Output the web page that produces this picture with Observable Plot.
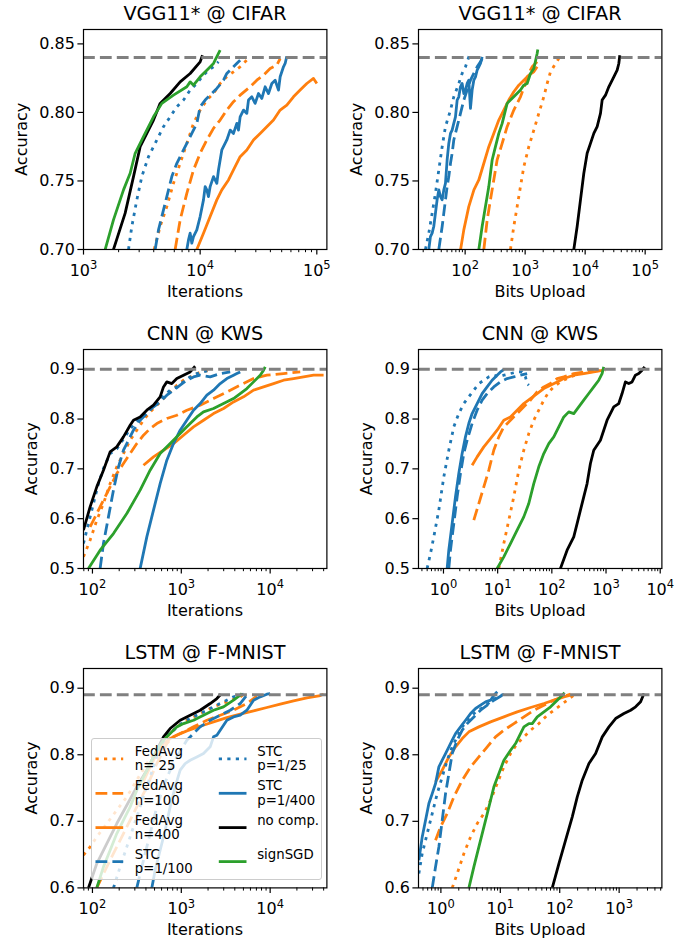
<!DOCTYPE html>
<html><head><meta charset="utf-8">
<script src="https://cdn.jsdelivr.net/npm/d3@7"></script>
<script src="https://cdn.jsdelivr.net/npm/@observablehq/plot@0.6"></script>
<style>
body{margin:0;background:#fff;}
#fig{position:relative;width:695px;height:939px;background:#fff;font-family:"DejaVu Sans",sans-serif;overflow:hidden;}
</style></head><body><div id="fig"></div>
<script>
// ---------- series metadata ----------
const seriesNames = ["FedAvg\nn= 25","FedAvg\nn=100","FedAvg\nn=400","STC\np=1/100","STC\np=1/25","STC\np=1/400","no comp.","signSGD"];
const seriesColors = ["#ff7f0e","#ff7f0e","#ff7f0e","#1f77b4","#1f77b4","#1f77b4","#000000","#2ca02c"];
const seriesDash = ["3.2,5.3","11.8,5.1",null,"11.8,5.1","3.2,5.3",null,null,null];

// ---------- panel texts / ticks ----------
const titles = ["VGG11* @ CIFAR","VGG11* @ CIFAR","CNN @ KWS","CNN @ KWS","LSTM @ F-MNIST","LSTM @ F-MNIST"];
const xLabels = ["Iterations","Bits Upload","Iterations","Bits Upload","Iterations","Bits Upload"];
const yLabel = "Accuracy";
const refAcc = [0.84, 0.84, 0.90, 0.90, 0.89, 0.89];
const xTicks1 = [1e3, 1e4, 1e5];
const xTicks2 = [1e2, 1e3, 1e4, 1e5];
const xTicks3 = [1e2, 1e3, 1e4];
const xTicks4 = [1e0, 1e1, 1e2, 1e3, 1e4];
const xTicks5 = [1e2, 1e3, 1e4];
const xTicks6 = [1e0, 1e1, 1e2, 1e3];
const yTicksVGG = [0.70, 0.75, 0.80, 0.85];
const yTicksKWS = [0.5, 0.6, 0.7, 0.8, 0.9];
const yTicksLSTM = [0.6, 0.7, 0.8, 0.9];

// ---------- VGG11* @ CIFAR, iterations ----------
const p1_fa25 = [[4034,0.700],[4541,0.7168],[5179,0.7313],[5906,0.7483],[6739,0.7629],[7686,0.7774],[8767,0.792],[10000,0.8017],[11406,0.809],[13013,0.8138],[14840,0.8211],[16927,0.826],[19307,0.8296],[22020,0.8333],[25119,0.8381],[26827,0.8405]];
const p1_fa100 = [[6105,0.700],[6739,0.7216],[7686,0.741],[8767,0.758],[10000,0.7702],[11406,0.7799],[13013,0.7884],[14840,0.7944],[16927,0.8017],[19307,0.8078],[22020,0.8126],[26827,0.8187],[30600,0.8235],[34910,0.8272],[39810,0.832],[45410,0.8345],[48510,0.8393]];
const p1_fa400 = [[9363,0.700],[10680,0.7119],[12183,0.724],[13895,0.7362],[15336,0.7435],[17500,0.7507],[19307,0.758],[22020,0.7677],[25119,0.7726],[28650,0.7799],[32680,0.7847],[37276,0.7896],[42530,0.7944],[48510,0.8017],[55330,0.8053],[63100,0.8114],[71970,0.8163],[82090,0.8211],[93630,0.8248],[100000,0.8211]];
const p1_stc100 = [[4116,0.700],[4394,0.7143],[4850,0.7289],[5179,0.7386],[5717,0.7532],[6310,0.7629],[6964,0.7702],[7686,0.7774],[8483,0.7847],[9363,0.792],[10000,0.8041],[11040,0.809],[12183,0.8126],[13895,0.8175],[15849,0.8235],[16927,0.8284],[19307,0.8333],[21310,0.8369],[22020,0.8381]];
const p1_stc25 = [[2431,0.700],[2596,0.7168],[2865,0.7362],[3162,0.7532],[3607,0.7677],[4253,0.7799],[4850,0.7896],[5533,0.7968],[6310,0.8041],[7197,0.809],[8209,0.8163],[9363,0.8211],[10680,0.8272],[11788,0.8308],[13013,0.8333],[14360,0.8369]];
const p1_stc400 = [[7686,0.700],[7943,0.707],[8209,0.7119],[8483,0.7046],[8767,0.7094],[9363,0.7143],[10000,0.724],[10680,0.7362],[11040,0.7459],[11406,0.7435],[11788,0.7386],[12183,0.7459],[13013,0.7532],[13895,0.7483],[14360,0.758],[15336,0.7726],[16927,0.7799],[18080,0.7871],[19307,0.7847],[20620,0.792],[21310,0.7871],[22020,0.7968],[23520,0.8017],[25119,0.7993],[25960,0.809],[27730,0.8114],[29610,0.8066],[31623,0.8138],[33780,0.8102],[36070,0.8187],[38530,0.8138],[41160,0.8211],[43950,0.8235],[46940,0.8163],[48510,0.826],[51790,0.8333],[53520,0.8357],[55330,0.841]];
const p1_none = [[1807,0.700],[2276,0.7265],[2683,0.7532],[3060,0.775],[3490,0.7847],[3981,0.7944],[4541,0.8066],[5533,0.8138],[6739,0.8223],[8209,0.8284],[10000,0.8369],[10471,0.8417]];
const p1_sign = [[1534,0.700],[1807,0.7216],[2203,0.7435],[2512,0.7556],[2773,0.7702],[3268,0.7823],[3981,0.7968],[4693,0.8066],[5906,0.8126],[7686,0.8187],[8209,0.8223],[8767,0.8199],[10000,0.826],[11406,0.8308],[13013,0.8357],[14360,0.843],[14840,0.8454]];

// ---------- VGG11* @ CIFAR, bits upload ----------
const p2_fa25 = [[569,0.700],[647,0.7168],[736,0.7313],[836,0.7459],[950,0.7604],[1151,0.775],[1395,0.7871],[1690,0.7993],[2047,0.8114],[2326,0.8211],[2643,0.8296],[3203,0.8357],[3639,0.8393]];
const p2_fa100 = [[205,0.700],[233,0.7216],[264,0.7362],[300,0.7507],[341,0.7653],[414,0.7774],[501,0.7896],[647,0.8017],[836,0.8114],[1013,0.8211],[1151,0.8284],[1308,0.8333],[1585,0.8369]];
const p2_fa400 = [[84,0.700],[95,0.7143],[115,0.7313],[140,0.7435],[169,0.7507],[205,0.7629],[248,0.775],[300,0.7847],[364,0.7944],[441,0.8017],[534,0.809],[647,0.8151],[784,0.8199],[950,0.8235],[1151,0.8272],[1395,0.8296],[1585,0.8333]];
const p2_stc100 = [[36.4,0.700],[41.4,0.7168],[44.1,0.7265],[47,0.7362],[50.1,0.7459],[53.4,0.7532],[57,0.7629],[60.7,0.7702],[64.7,0.7799],[73.6,0.7896],[83.6,0.7993],[95,0.809],[108,0.8163],[122.7,0.8235],[139.5,0.8284],[158.5,0.8333],[180.1,0.8369],[192,0.8393]];
const p2_stc25 = [[21.8,0.700],[24.8,0.7119],[28.2,0.7265],[32,0.741],[36.4,0.758],[41.4,0.775],[47,0.7896],[57,0.8017],[64.7,0.8114],[78.4,0.8211],[89.1,0.8284],[101.3,0.8333],[115.1,0.8405],[122.7,0.843]];
const p2_stc400 = [[24.8,0.700],[26.4,0.7094],[28.2,0.7119],[30,0.7168],[32,0.7265],[34.1,0.7362],[36.4,0.7435],[38.8,0.7386],[41.4,0.7362],[44.1,0.7435],[47,0.7483],[50.1,0.7653],[53.4,0.7774],[57,0.7847],[60.7,0.7871],[64.7,0.792],[69,0.7968],[73.6,0.809],[78.4,0.8114],[83.6,0.8187],[89.1,0.8211],[95,0.8138],[101.3,0.8163],[108,0.8211],[115.1,0.8235],[122.7,0.8029],[130.8,0.8163],[139.5,0.8235],[148.7,0.826],[158.5,0.8308],[169,0.8333],[180.1,0.8357],[192,0.8405]];
const p2_none = [[6471,0.700],[7356,0.7168],[8359,0.7362],[9502,0.7556],[10797,0.7702],[12270,0.7774],[13947,0.7847],[15849,0.7896],[18010,0.7993],[19200,0.809],[21830,0.8126],[24800,0.8187],[30050,0.826],[34150,0.8308],[36390,0.8357],[37820,0.8417]];
const p2_sign = [[169,0.700],[192,0.7168],[218,0.7313],[248,0.7459],[282,0.7653],[320,0.775],[364,0.7847],[414,0.792],[501,0.8066],[647,0.8114],[836,0.8163],[950,0.8199],[1080,0.8211],[1227,0.8284],[1395,0.832],[1585,0.843],[1626,0.8459]];

// ---------- CNN @ KWS, iterations ----------
const p3_fa25 = [[79.2,0.5234],[94.1,0.5568],[111.9,0.5969],[133,0.6304],[158.1,0.6705],[187.9,0.704],[223.4,0.7307],[265.6,0.7575],[315.6,0.7776],[375.3,0.7976],[446,0.8144],[530.3,0.8277],[630.2,0.8411],[749.2,0.8545],[890.5,0.8679],[1059,0.8779],[1258,0.8846],[1496,0.8913],[1778,0.896],[2114,0.898]];
const p3_fa100 = [[94.1,0.5836],[111.9,0.6103],[133,0.6371],[158.1,0.6638],[187.9,0.6906],[223.4,0.7107],[265.6,0.7307],[315.6,0.7508],[375.3,0.7675],[446,0.7809],[530.3,0.791],[687.3,0.801],[890.5,0.8077],[1154,0.8177],[1631,0.8277],[2305,0.8411],[3257,0.8545],[4602,0.8679],[6503,0.8813],[9190,0.888],[14155,0.8913],[21810,0.8946]];
const p3_fa400 = [[375.3,0.7073],[486.3,0.724],[630.2,0.7374],[817,0.7508],[1059,0.7675],[1372,0.7843],[1778,0.7976],[2305,0.811],[2987,0.8211],[3871,0.8344],[5017,0.8445],[6503,0.8579],[8427,0.8645],[10923,0.8712],[14155,0.8779],[18341,0.8813],[23776,0.8846],[30820,0.888],[39940,0.888]];
const p3_stc100 = [[122,0.5],[133,0.5501],[151.4,0.6036],[172.4,0.6572],[196.3,0.704],[223.4,0.7374],[254.3,0.7575],[289.5,0.7776],[344.2,0.7976],[409.2,0.811],[486.3,0.8244],[578.1,0.8344],[687.3,0.8478],[817,0.8579],[970.9,0.8679],[1154,0.8779],[1372,0.8846],[1631,0.888],[2114,0.8846],[2740,0.8913],[3551,0.8946]];
const p3_stc25 = [[79.2,0.5501],[90.2,0.5902],[102.6,0.6304],[116.8,0.6705],[133,0.7006],[158.1,0.7307],[187.9,0.740],[223.4,0.760],[265.6,0.780],[315.6,0.795],[375.3,0.808],[446,0.820],[530.3,0.833],[630.2,0.846],[749.2,0.8579],[890.5,0.8645],[1059,0.8746],[1258,0.8846],[1496,0.8913],[1778,0.8946],[2114,0.898]];
const p3_stc400 = [[344.2,0.5],[409.2,0.5635],[486.3,0.617],[578.1,0.6705],[687.3,0.7174],[817,0.7508],[970.9,0.7776],[1154,0.7976],[1372,0.8177],[1631,0.8311],[1939,0.8478],[2305,0.8579],[2740,0.8712],[3257,0.8813],[3871,0.888],[4221,0.8913],[4602,0.8946]];
const p3_none = [[79.2,0.5769],[94.1,0.6237],[111.9,0.6638],[133,0.6973],[158.1,0.7341],[187.9,0.7441],[223.4,0.7642],[265.6,0.7876],[289.5,0.7976],[344.2,0.8043],[409.2,0.8177],[486.3,0.8277],[578.1,0.8445],[630.2,0.8645],[687.3,0.8746],[782.3,0.8712],[890.5,0.8813],[1059,0.888],[1258,0.8946],[1433,0.906]];
const p3_sign = [[90.2,0.5],[122,0.5367],[172.4,0.5702],[243.6,0.6103],[344.2,0.6572],[446,0.6973],[578.1,0.7307],[749.2,0.7508],[970.9,0.7709],[1154,0.7843],[1496,0.8043],[1778,0.8144],[2305,0.8211],[2987,0.8311],[3871,0.8411],[4602,0.8512],[5470,0.8612],[6503,0.8746],[7730,0.888],[8427,0.898],[8798,0.9047]];

// ---------- CNN @ KWS, bits upload ----------
const p4_fa25 = [[10.49,0.5],[12.98,0.5501],[16.05,0.5969],[19.84,0.6438],[24.55,0.6973],[30.35,0.7374],[37.53,0.7709],[46.42,0.7976],[57.41,0.8177],[71,0.8378],[87.8,0.8545],[108.6,0.8645],[144.1,0.8746],[220.4,0.8846],[337.1,0.8913],[515.5,0.8946],[788.4,0.898],[974.8,0.898]];
const p4_fa100 = [[3.63,0.5969],[4.49,0.6304],[5.55,0.6638],[6.86,0.6973],[8.48,0.7374],[10.49,0.7642],[12.98,0.7843],[17.23,0.7976],[22.87,0.811],[30.35,0.8244],[40.29,0.8378],[53.48,0.8545],[71,0.8645],[94.2,0.8712],[125.1,0.8813],[166.1,0.8846],[253.9,0.8913],[388.3,0.8946],[593.8,0.898]];
const p4_fa400 = [[3.38,0.7073],[4.18,0.724],[5.55,0.7441],[7.36,0.7608],[9.78,0.7776],[12.98,0.7976],[17.23,0.8043],[22.87,0.8177],[30.35,0.8311],[40.29,0.8411],[53.48,0.8512],[71,0.8612],[94.2,0.8679],[125.1,0.8746],[166.1,0.8813],[253.9,0.888],[388.3,0.8913],[593.8,0.8946],[908.2,0.898]];
const p4_stc100 = [[1.254,0.5],[1.346,0.5367],[1.551,0.5902],[1.787,0.6438],[2.059,0.6906],[2.372,0.7307],[2.733,0.7575],[3.38,0.791],[4.18,0.8177],[5.17,0.8378],[6.39,0.8512],[8.48,0.8645],[11.27,0.8746],[14.95,0.8813],[19.84,0.8846],[26.35,0.888],[34.97,0.8913]];
const p4_stc25 = [[0.4995,0.5],[0.5756,0.53],[0.663,0.5635],[0.82,0.617],[1.014,0.6839],[1.254,0.7374],[1.551,0.7843],[1.918,0.811],[2.372,0.8311],[2.934,0.8445],[3.63,0.8579],[4.49,0.8712],[5.55,0.8779],[6.86,0.8846],[8.48,0.888],[10.49,0.8846],[12.98,0.888],[17.23,0.8913],[22.87,0.8946],[28.28,0.8946],[32.58,0.8846],[34.97,0.8712],[37.53,0.8679]];
const p4_stc400 = [[1.169,0.5],[1.254,0.5367],[1.445,0.5902],[1.665,0.6438],[1.918,0.6906],[2.21,0.7307],[2.546,0.7642],[2.934,0.791],[3.38,0.811],[4.18,0.8311],[5.17,0.8512],[6.39,0.8645],[7.9,0.8779],[9.78,0.888],[11.27,0.8946],[12.98,0.8993]];
const p4_none = [[144.1,0.5],[191.3,0.5367],[253.9,0.5635],[292.5,0.5902],[337.1,0.617],[388.3,0.6438],[447.4,0.6705],[515.5,0.7107],[593.8,0.7374],[788.4,0.7575],[908.2,0.7776],[1046,0.7976],[1389,0.8244],[1718,0.8311],[1979,0.8512],[2280,0.8746],[2627,0.8712],[3026,0.8746],[3486,0.888],[4017,0.8913],[4627,0.898],[5184,0.9047]];
const p4_sign = [[9.78,0.5],[12.98,0.5234],[17.23,0.5501],[22.87,0.5769],[30.35,0.6036],[37.53,0.6304],[46.42,0.6705],[57.41,0.704],[71,0.7307],[87.8,0.7508],[108.6,0.7642],[134.3,0.7843],[166.1,0.8043],[205.3,0.8144],[253.9,0.811],[314,0.8244],[388.3,0.8378],[480.2,0.8512],[593.8,0.8645],[734.4,0.8779],[846,0.8913],[908.2,0.9047]];

// ---------- LSTM @ F-MNIST, iterations ----------
const p5_fa25 = [[79.2,0.6491],[94.1,0.6616],[111.9,0.6766],[145,0.6967],[187.9,0.7167],[243.6,0.7367],[315.6,0.7618],[409.2,0.7868],[530.3,0.8068],[687.3,0.8269],[890.5,0.8419],[1154,0.8519],[1631,0.8619],[2305,0.872],[3257,0.8795],[4602,0.887],[5017,0.891]];
const p5_fa100 = [[111.9,0.6],[145,0.6316],[187.9,0.6616],[243.6,0.6917],[315.6,0.7217],[409.2,0.7518],[530.3,0.7868],[687.3,0.8169],[817,0.8269],[1059,0.8344],[1372,0.8419],[1939,0.8519],[2740,0.8594],[3871,0.8669],[5470,0.877],[7088,0.888]];
const p5_fa400 = [[375.3,0.7598],[446,0.7818],[530.3,0.8018],[630.2,0.8169],[749.2,0.8244],[890.5,0.8294],[1154,0.8359],[1631,0.8429],[2305,0.8494],[3257,0.8559],[4602,0.8609],[6503,0.8659],[9190,0.871],[12987,0.876],[18341,0.881],[25920,0.8855],[36630,0.889],[39940,0.891]];
const p5_stc100 = [[315.6,0.6],[359.4,0.6316],[409.2,0.6616],[465.8,0.6917],[530.3,0.7217],[630.2,0.7518],[749.2,0.7768],[890.5,0.7968],[1014,0.8094],[1154,0.8219],[1372,0.8319],[1631,0.8419],[2114,0.8519],[2740,0.8594],[3551,0.8669],[4602,0.877],[5470,0.8895]];
const p5_stc25 = [[172.4,0.6],[205,0.6316],[243.6,0.6616],[289.5,0.6917],[344.2,0.7217],[409.2,0.7518],[486.3,0.7818],[578.1,0.8119],[687.3,0.8294],[817,0.8369],[1059,0.8494],[1372,0.8569],[1939,0.8669],[2740,0.877],[3871,0.887],[5017,0.891]];
const p5_stc400 = [[465.8,0.6],[507.7,0.6266],[578.1,0.6566],[658.1,0.6867],[749.2,0.7217],[852.8,0.7518],[970.9,0.7768],[1105,0.7868],[1258,0.7918],[1496,0.7968],[1778,0.8018],[2114,0.8119],[2305,0.8269],[2513,0.8294],[2740,0.8369],[3257,0.8519],[3871,0.8569],[4602,0.8594],[5470,0.8669],[6503,0.882],[7730,0.887],[9190,0.891],[10020,0.892]];
const p5_none = [[90.2,0.6],[111.9,0.6366],[145,0.6666],[187.9,0.6967],[243.6,0.7242],[315.6,0.7518],[409.2,0.7768],[530.3,0.8068],[630.2,0.8269],[749.2,0.8394],[970.9,0.8519],[1258,0.8594],[1631,0.8669],[2114,0.877],[2513,0.8845],[2788,0.891]];
const p5_sign = [[111.9,0.6],[133,0.6316],[158.1,0.6566],[187.9,0.6817],[223.4,0.7017],[265.6,0.7217],[315.6,0.7468],[375.3,0.7668],[446,0.7868],[530.3,0.8068],[630.2,0.8219],[749.2,0.8319],[890.5,0.8419],[1059,0.8469],[1372,0.8519],[1778,0.8594],[2305,0.8669],[2987,0.872],[3871,0.882],[4602,0.8895],[4806,0.892]];

// ---------- LSTM @ F-MNIST, bits upload ----------
const p6_fa25 = [[1.551,0.6],[1.884,0.6216],[2.439,0.6516],[3.158,0.6766],[4.09,0.6967],[5.3,0.7117],[6.86,0.7317],[8.88,0.7568],[11.5,0.7818],[14.89,0.8018],[19.28,0.8169],[24.96,0.8269],[32.32,0.8369],[44.65,0.8469],[61.67,0.8594],[79.9,0.8669],[103.4,0.8745],[133.9,0.882],[173.4,0.8895],[197.3,0.892]];
const p6_fa100 = [[0.813,0.6716],[0.987,0.6917],[1.278,0.7117],[1.655,0.7367],[2.287,0.7618],[3.158,0.7818],[4.36,0.7968],[6.03,0.8119],[8.32,0.8269],[11.5,0.8369],[16.94,0.8469],[24.96,0.8569],[36.79,0.8669],[54.2,0.8745],[79.9,0.882],[117.7,0.888],[152.4,0.891]];
const p6_fa400 = [[0.813,0.7593],[1.053,0.7768],[1.364,0.7968],[1.766,0.8119],[2.287,0.8244],[2.96,0.8344],[4.36,0.8419],[6.86,0.8494],[11.5,0.8569],[19.28,0.8644],[32.32,0.871],[54.2,0.877],[79.9,0.882],[117.7,0.887],[152.4,0.8895]];
const p6_stc100 = [[0.715,0.6],[0.813,0.6316],[0.925,0.6616],[1.053,0.7017],[1.198,0.7417],[1.364,0.7718],[1.551,0.8018],[1.884,0.8219],[2.287,0.8369],[2.776,0.8469],[3.59,0.8569],[4.654,0.8669],[6.03,0.8745],[7.8,0.882],[10.1,0.888],[11.5,0.891]];
const p6_stc25 = [[0.426,0.6216],[0.485,0.6516],[0.589,0.6817],[0.715,0.7117],[0.868,0.7417],[1.053,0.7668],[1.278,0.7918],[1.551,0.8119],[1.884,0.8269],[2.287,0.8419],[2.96,0.8544],[3.833,0.8644],[5.3,0.872],[6.86,0.8795],[8.88,0.887],[11.5,0.891]];
const p6_stc400 = [[0.426,0.6416],[0.485,0.6766],[0.552,0.7017],[0.628,0.7267],[0.715,0.7417],[0.813,0.7568],[0.925,0.7818],[1.053,0.7918],[1.198,0.8018],[1.364,0.8119],[1.551,0.8219],[1.766,0.8319],[2.144,0.8419],[2.602,0.8519],[3.158,0.8619],[3.833,0.8695],[4.654,0.8745],[5.65,0.8795],[6.86,0.882],[7.8,0.8895],[8.88,0.8945]];
const p6_none = [[74.9,0.6],[96.9,0.6366],[125.6,0.6716],[162.6,0.7067],[197.3,0.7367],[239.5,0.7618],[310.1,0.7868],[401.7,0.8018],[520,0.8269],[673.4,0.8419],[871.9,0.8544],[1204,0.8619],[1560,0.8669],[1893,0.872],[2298,0.8795],[2616,0.892]];
const p6_sign = [[2.96,0.6],[3.59,0.6316],[4.36,0.6616],[5.3,0.6917],[6.03,0.7117],[6.86,0.7317],[7.8,0.7518],[9.47,0.7718],[11.5,0.7918],[14.89,0.8068],[18.07,0.8169],[20.56,0.8269],[24.96,0.8419],[30.3,0.8469],[34.48,0.8469],[41.86,0.8569],[54.2,0.8644],[70.2,0.872],[90.9,0.882],[110.3,0.8895],[120.8,0.893]];

// ---------- layout (plot-area boxes in page pixels) ----------
const panels = [
  {series:[p1_fa25,p1_fa100,p1_fa400,p1_stc100,p1_stc25,p1_stc400,p1_none,p1_sign], box:[83.3,29.3,326.7,249.3], xdom:[1000,122000], ydom:[0.70,0.8605], xt:xTicks1, yt:yTicksVGG, yfmt:".2f", ylOff:56.5},
  {series:[p2_fa25,p2_fa100,p2_fa400,p2_stc100,p2_stc25,p2_stc400,p2_none,p2_sign], box:[418.3,29.3,661.7,249.3], xdom:[16.7,190000], ydom:[0.70,0.8605], xt:xTicks2, yt:yTicksVGG, yfmt:".2f", ylOff:56.5},
  {series:[p3_fa25,p3_fa100,p3_fa400,p3_stc100,p3_stc25,p3_stc400,p3_none,p3_sign], box:[83.3,349.3,326.7,568.3], xdom:[79.3,43500], ydom:[0.5,0.9396], xt:xTicks3, yt:yTicksKWS, yfmt:".1f", ylOff:46.5},
  {series:[p4_fa25,p4_fa100,p4_fa400,p4_stc100,p4_stc25,p4_stc400,p4_none,p4_sign], box:[418.3,349.3,661.7,568.3], xdom:[0.346,10740], ydom:[0.5,0.9396], xt:xTicks4, yt:yTicksKWS, yfmt:".1f", ylOff:46.5},
  {series:[p5_fa25,p5_fa100,p5_fa400,p5_stc100,p5_stc25,p5_stc400,p5_none,p5_sign], box:[83.3,668.3,326.7,887.7], xdom:[79.3,43500], ydom:[0.6,0.9296], xt:xTicks5, yt:yTicksLSTM, yfmt:".1f", ylOff:46.5},
  {series:[p6_fa25,p6_fa100,p6_fa400,p6_stc100,p6_stc25,p6_stc400,p6_none,p6_sign], box:[418.3,668.3,661.7,887.7], xdom:[0.42,5240], ydom:[0.6,0.9296], xt:xTicks6, yt:yTicksLSTM, yfmt:".1f", ylOff:46.5}
];

const supMap = {"0":"⁰","1":"¹","2":"²","3":"³","4":"⁴","5":"⁵","6":"⁶","-":"⁻"};
const supBack = Object.fromEntries(Object.entries(supMap).map(([k, v]) => [v, k]));
const powFmt = d => "10" + String(Math.round(Math.log10(d))).split("").map(c => supMap[c]).join("");

const fig = document.getElementById("fig");
const mL = 80, mT = 20, mR = 22, mB = 40;
const SVGNS = "http://www.w3.org/2000/svg";

panels.forEach((p, pi) => {
  const [x0, y0, x1, y1] = p.box;
  const minor = [];
  for (let e = Math.floor(Math.log10(p.xdom[0])); e <= Math.ceil(Math.log10(p.xdom[1])); e++) {
    for (let k = 2; k <= 9; k++) {
      const v = k * Math.pow(10, e);
      if (v >= p.xdom[0] && v <= p.xdom[1]) minor.push(v);
    }
  }
  const lines = p.series.map((s, i) => Plot.line(s, {
    x: d => d[0], y: d => d[1],
    stroke: seriesColors[i], strokeWidth: 2.8,
    strokeDasharray: seriesDash[i] || undefined,
    strokeLinecap: "butt", strokeLinejoin: "round", clip: true
  }));
  const chart = Plot.plot({
    width: (x1 - x0) + mL + mR,
    height: (y1 - y0) + mT + mB,
    marginLeft: mL, marginRight: mR, marginTop: mT, marginBottom: mB,
    x: {type: "log", domain: p.xdom},
    y: {domain: p.ydom},
    style: {background: "transparent", fontFamily: "DejaVu Sans", fontSize: "16px", color: "black", overflow: "visible"},
    marks: [
      ...lines,
      Plot.ruleY([refAcc[pi]], {stroke: "#808080", strokeWidth: 3, strokeDasharray: "11.8,5.1"}),
      Plot.frame({stroke: "black", strokeWidth: 1.2}),
      Plot.axisX({ticks: minor, tickSize: 3.2, tickFormat: () => "", label: null, strokeWidth: 1}),
      Plot.axisX({ticks: p.xt, tickSize: 5.6, tickPadding: 9.5, tickFormat: powFmt, fontSize: 16, label: null, strokeWidth: 1.2}),
      Plot.axisY({ticks: p.yt, tickSize: 5.6, tickPadding: 3, tickFormat: d3.format(p.yfmt), fontSize: 16, label: null, strokeWidth: 1.2})
    ]
  });
  // render exponent as a raised, smaller tspan (like mathtext superscripts)
  chart.querySelectorAll("text").forEach(t => {
    const s = t.textContent;
    if (/^10[⁰¹²³⁴⁵⁶⁻]+$/.test(s)) {
      const exp = s.slice(2).split("").map(c => supBack[c]).join("");
      while (t.firstChild) t.removeChild(t.firstChild);
      const base = document.createElementNS(SVGNS, "tspan");
      base.textContent = "10";
      const sup = document.createElementNS(SVGNS, "tspan");
      sup.setAttribute("font-size", "11.5");
      sup.setAttribute("dy", "-6.5");
      sup.textContent = exp;
      t.appendChild(base); t.appendChild(sup);
    }
  });
  chart.style.position = "absolute";
  chart.style.left = (x0 - mL) + "px";
  chart.style.top = (y0 - mT) + "px";
  fig.appendChild(chart);
});

// ---------- titles & axis labels ----------
const overlay = d3.create("svg").attr("width", 695).attr("height", 939)
  .style("position", "absolute").style("left", "0px").style("top", "0px")
  .style("pointer-events", "none").style("font-family", "DejaVu Sans");
panels.forEach((p, pi) => {
  const [x0, y0, x1, y1] = p.box;
  const cx = (x0 + x1) / 2, cy = (y0 + y1) / 2;
  overlay.append("text").attr("x", cx).attr("y", y0 - 9.5).attr("text-anchor", "middle")
    .attr("font-size", 19.2).text(titles[pi]);
  overlay.append("text").attr("x", cx).attr("y", y1 + 47.5).attr("text-anchor", "middle")
    .attr("font-size", 16).text(xLabels[pi]);
  overlay.append("text").attr("transform", `translate(${x0 - p.ylOff},${cy}) rotate(-90)`)
    .attr("text-anchor", "middle").attr("font-size", 16).text(yLabel);
});
fig.appendChild(overlay.node());

// ---------- legend (in the LSTM iterations panel) ----------
const lg = {left: 90.5, top: 737.5, w: 231.5, h: 142.5};
const legendDiv = document.createElement("div");
Object.assign(legendDiv.style, {
  position: "absolute", left: lg.left + "px", top: lg.top + "px", width: lg.w + "px", height: lg.h + "px",
  background: "rgba(255,255,255,0.8)", border: "1px solid #cccccc", borderRadius: "3px", boxSizing: "border-box"
});
const lsvg = d3.create("svg").attr("width", lg.w).attr("height", lg.h)
  .style("position", "absolute").style("left", "-1px").style("top", "-1px").style("overflow", "visible")
  .style("font-family", "DejaVu Sans");
const rowY = [20.8, 55.3, 89.6, 123.6];
const colHandle = [[4.5, 32.2], [127.8, 155.5]];
const colText = [43.8, 166.2];
seriesNames.forEach((name, i) => {
  const col = i < 4 ? 0 : 1, row = i % 4;
  const yc = rowY[row];
  const ln = lsvg.append("line").attr("x1", colHandle[col][0]).attr("x2", colHandle[col][1])
    .attr("y1", yc).attr("y2", yc).attr("stroke", seriesColors[i]).attr("stroke-width", 2.8);
  if (seriesDash[i]) ln.attr("stroke-dasharray", seriesDash[i]);
  const t = lsvg.append("text").attr("x", colText[col]).attr("font-size", 13.3);
  name.split("\n").forEach((part, j) => {
    t.append("tspan").attr("x", colText[col]).attr("y", yc - 3 + j * 14.3).text(part);
  });
});
legendDiv.appendChild(lsvg.node());
fig.appendChild(legendDiv);
</script></body></html>
